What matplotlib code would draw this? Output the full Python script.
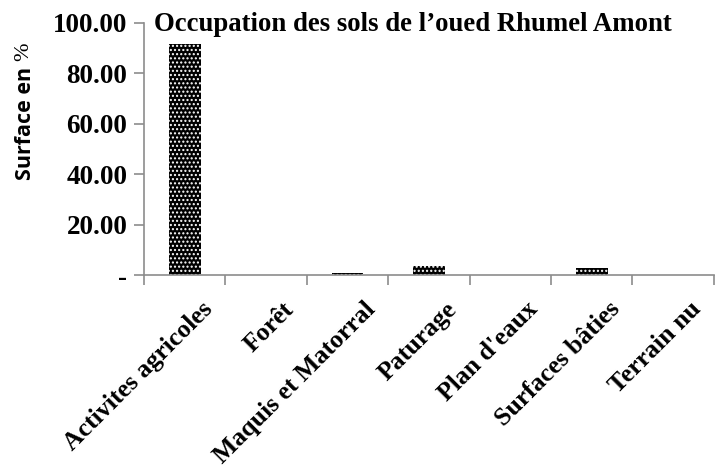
import matplotlib.pyplot as plt
from matplotlib.ticker import FuncFormatter

categories = ['Activites agricoles', 'Forêt', 'Maquis et Matorral', 'Paturage',
              "Plan d'eaux", 'Surfaces bâties', 'Terrain nu']
surface_pct = [91.8, 0.0, 0.8, 3.5, 0.0, 2.7, 0.0]
y_ticks = [0, 20, 40, 60, 80, 100]

axis_grey = '#8c8c8c'
serif = 'Liberation Serif'

fig = plt.figure(figsize=(7.25, 4.73), dpi=100)
ax = fig.add_axes([0.1986, 0.4186, 0.786, 0.5328])

x = list(range(len(categories)))
ax.bar(x, surface_pct, width=0.39, color='black', edgecolor='white',
       hatch='....', linewidth=0)

ax.set_xlim(-0.5, len(categories) - 0.5)
ax.set_ylim(0, 100)

# category boundaries carry the ticks (Excel style)
ax.set_xticks([i - 0.5 for i in range(len(categories) + 1)])
ax.set_xticklabels([])
ax.tick_params(axis='x', length=7.5, width=1.2, color=axis_grey)
for i, name in enumerate(categories):
    ax.text(i + 0.2, -9.0, name, rotation=45, ha='right', va='top',
            rotation_mode='anchor', fontsize=18.5, fontweight='bold',
            family=serif, clip_on=False)

ax.set_yticks(y_ticks)
ax.yaxis.set_major_formatter(FuncFormatter(lambda v, p: '-' if v == 0 else f'{v:.2f}'))
ax.tick_params(axis='y', length=7.5, width=1.2, color=axis_grey, pad=4.5)
for lab in ax.get_yticklabels():
    lab.set_fontsize(19.5)
    lab.set_fontweight('bold')
    lab.set_family(serif)

for side in ['top', 'right']:
    ax.spines[side].set_visible(False)
for side in ['left', 'bottom']:
    ax.spines[side].set_color(axis_grey)
    ax.spines[side].set_linewidth(1.2)

fig.text(0.57, 0.934, "Occupation des sols de l\u2019oued Rhumel Amont",
         ha='center', va='baseline', fontsize=19.3, fontweight='bold', family=serif)

# y label: sans bold text plus a light serif percent sign
fig.text(0.035, 0.739, 'Surface en', rotation=90, ha='center', va='center',
         fontsize=15.5, fontweight='bold', family='Open Sans')
fig.text(0.033, 0.89, '%', rotation=90, ha='center', va='center',
         fontsize=16, family=serif)

fig.savefig('out.png', dpi=100)
